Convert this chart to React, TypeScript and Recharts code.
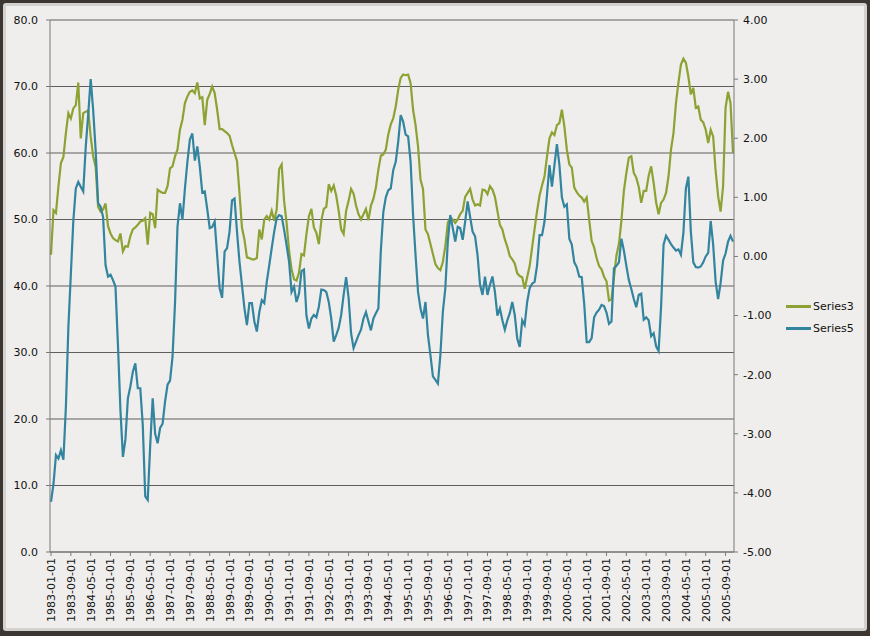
import { LineChart, Line, XAxis, YAxis, CartesianGrid } from 'recharts';

// monthly categories, 1983-01 .. 2005-12
const START_YEAR = 1983;
const YEARS = 23;
const months: string[] = [];
for (let y = 0; y < YEARS; y++) {
  for (let m = 1; m <= 12; m++) {
    months.push(`${START_YEAR + y}-${String(m).padStart(2, '0')}-01`);
  }
}

// Series3 (left axis), one row per year
const series3 = [
  44.7, 51.4, 51, 55, 58.5, 59.4, 63, 66, 65.2, 66.7, 67.2, 70.6,
  62.2, 66, 66.2, 66.4, 62.5, 59.5, 57.9, 51.9, 51.2, 51.5, 52.4, 49,
  47.9, 47.2, 46.9, 46.7, 47.9, 45.2, 46, 45.9, 47.5, 48.5, 48.8, 49.2,
  49.7, 49.8, 50.2, 46.2, 51, 50.8, 48.7, 54.5, 54.2, 54, 54, 55,
  57.7, 58, 59.5, 60.5, 63.5, 65, 67.5, 68.5, 69.2, 69.4, 69, 70.6,
  68.2, 68.4, 64.2, 68, 68.9, 70, 69, 66.5, 63.6, 63.6, 63.3, 63,
  62.6, 61.2, 60, 58.8, 54, 48.8, 47, 44.3, 44.2, 44, 44, 44.2,
  48.5, 47, 50, 50.5, 50, 51.3, 49.8, 51.5, 57.6, 58.3, 52.8, 49.5,
  45.3, 42.5, 41, 40.8, 42, 44.8, 44.6, 47.8, 50.5, 51.6, 48.8, 48,
  46.3, 49.8, 51.6, 51.9, 55.3, 54.3, 55.1, 53.6, 51.3, 48.5, 47.8, 51.3,
  52.8, 54.6, 53.9, 52.1, 50.8, 50, 50.8, 51.6, 49.9, 52.1, 53.1, 54.8,
  57.5, 59.6, 59.8, 60.5, 62.8, 64.3, 65.2, 67, 69.5, 71.3, 71.8, 71.7,
  71.8, 70.5, 66.5, 64.2, 61, 56, 54.6, 48.5, 47.8, 46.3, 44.8, 43.3,
  42.7, 42.4, 43.6, 46, 49.5, 50.3, 50, 49.5, 50, 50.8, 51.3, 53.4,
  54, 54.6, 53, 52.1, 52.3, 52.1, 54.5, 54.4, 53.8, 55, 54.5, 53.4,
  51.3, 49.2, 48.5, 47, 45.9, 44.5, 44, 43.4, 41.9, 41.5, 41.3, 39.6,
  41.3, 43, 45.8, 48.6, 51.3, 53.6, 55.1, 56.5, 59.5, 62.2, 63.1, 62.7,
  64.2, 64.5, 66.5, 64, 60.5, 58.3, 57.8, 54.8, 54.1, 53.6, 53.3, 52.7,
  53.3, 50, 46.8, 45.8, 44.2, 43, 42.5, 41.4, 40.7, 37.8, 38, 41.3,
  44.6, 46.3, 49.8, 54.3, 57, 59.3, 59.5, 57, 56.3, 54.9, 52.5, 54.3,
  54.3, 56.6, 58, 55.5, 52.6, 50.8, 52.5, 53, 54, 56.5, 60.5, 63,
  67.5, 70.6, 73.3, 74.2, 73.6, 71.5, 68.8, 69.8, 66.8, 67, 65, 64.6,
  63.5, 61.5, 63.5, 62.5, 57.3, 53.5, 51.2, 55, 66.8, 69.2, 67.5, 60,
];

// Series5 (right axis), one row per year
const series5 = [
  -4.15, -3.85, -3.36, -3.42, -3.28, -3.44, -2.55, -1.2, -0.3, 0.6, 1.15, 1.26,
  1.18, 1.1, 1.85, 2.4, 3.0, 2.48, 1.8, 0.9, 0.84, 0.67, -0.15, -0.34,
  -0.31, -0.4, -0.51, -1.5, -2.6, -3.39, -3.1, -2.4, -2.2, -1.95, -1.81, -2.23,
  -2.23, -2.85, -4.06, -4.12, -3.2, -2.4, -3.0, -3.16, -2.9, -2.83, -2.45, -2.17,
  -2.1, -1.7, -0.8, 0.5, 0.9, 0.62, 1.15, 1.6, 1.98, 2.08, 1.62, 1.86,
  1.52, 1.08, 1.1, 0.8, 0.48, 0.5, 0.59, 0.02, -0.54, -0.7, 0.08, 0.14,
  0.42, 0.95, 0.98, 0.42, -0.09, -0.48, -0.88, -1.16, -0.79, -0.79, -1.1, -1.27,
  -0.94, -0.74, -0.79, -0.43, -0.15, 0.14, 0.42, 0.645, 0.7, 0.68, 0.45, 0.19,
  -0.09, -0.6, -0.51, -0.77, -0.63, -0.25, -0.22, -1.0, -1.22, -1.05, -0.99, -1.03,
  -0.85, -0.56, -0.57, -0.6, -0.77, -1.05, -1.44, -1.33, -1.21, -0.99, -0.65, -0.35,
  -0.7, -1.3, -1.55, -1.44, -1.33, -1.24, -1.05, -0.94, -1.1, -1.25, -1.05, -0.96,
  -0.88, 0.1, 0.75, 1.0, 1.12, 1.15, 1.46, 1.6, 1.94, 2.39, 2.28, 2.06,
  2.03, 1.6, 0.7, 0.02, -0.6, -0.88, -1.05, -0.77, -1.33, -1.67, -2.03, -2.09,
  -2.15, -1.67, -0.94, -0.54, 0.25, 0.7, 0.48, 0.25, 0.5, 0.48, 0.28, 0.59,
  0.93, 0.67, 0.42, 0.34, 0.02, -0.48, -0.65, -0.34, -0.65, -0.48, -0.34, -0.6,
  -1.0, -0.88, -1.08, -1.24, -1.08, -0.96, -0.77, -0.99, -1.39, -1.53, -1.08, -1.16,
  -0.77, -0.54, -0.46, -0.43, -0.15, 0.36, 0.36, 0.59, 1.04, 1.545, 1.18, 1.545,
  1.9, 1.55, 1.0, 0.84, 0.88, 0.3, 0.2, -0.1, -0.18, -0.34, -0.35, -0.8,
  -1.45, -1.45, -1.38, -1.03, -0.95, -0.9, -0.82, -0.84, -0.95, -1.14, -1.1, -0.2,
  -0.16, -0.1, 0.3, 0.1, -0.16, -0.4, -0.55, -0.72, -0.86, -0.65, -0.63, -1.07,
  -1.03, -1.08, -1.35, -1.3, -1.52, -1.6, -0.85, 0.2, 0.35, 0.28, 0.21, 0.15,
  0.1, 0.12, 0.03, 0.4, 1.15, 1.35, 0.42, -0.1, -0.18, -0.19, -0.17, -0.1,
  0.0, 0.06, 0.6, 0.2, -0.43, -0.72, -0.45, -0.07, 0.05, 0.25, 0.35, 0.25,
];

const leftTicks = [0, 10, 20, 30, 40, 50, 60, 70, 80];
const rightTicks = [-5, -4, -3, -2, -1, 0, 1, 2, 3, 4];

const GREEN = '#8ca232';
const BLUE = '#33849f';
const FONT = 'DejaVu Sans';

const data = months.map((m, i) => ({ month: m, s3: series3[i], s5: series5[i] }));

const DateTick = ({ x, y, payload }: any) => (
  <text
    x={x}
    y={y}
    transform={`rotate(-90, ${x}, ${y})`}
    textAnchor="end"
    dy="0.36em"
    fontSize={11}
    fontFamily={FONT}
    fill="#111"
  >
    {payload.value}
  </text>
);

export default function App() {
  return (
    <div style={{ position: 'relative', width: 870, height: 636, background: '#3b3631' }}>
      <style>{'body{margin:0}'}</style>
      <div style={{
        position: 'absolute', left: 3, top: 3, width: 864, height: 628,
        boxSizing: 'border-box', background: '#efeeec',
        border: '3px solid #d3d2cf', borderRadius: 3,
      }} />
      <div style={{ position: 'absolute', left: 0, top: 0 }}>
        <LineChart width={870} height={636} data={data} margin={{ top: 20, right: 76, bottom: 0, left: 0 }}>
          <CartesianGrid yAxisId="left" vertical={false} stroke="#5e5e5e" />
          <XAxis
            dataKey="month"
            interval={7}
            height={84}
            padding={{ left: 1, right: 1 }}
            tick={<DateTick />}
            tickSize={4}
            tickMargin={2}
            stroke="#7a7a7a"
          />
          <YAxis
            yAxisId="left"
            domain={[0, 80]}
            ticks={leftTicks}
            width={50}
            tickSize={4}
            tickMargin={8}
            tickFormatter={(v: number) => v.toFixed(1)}
            tick={{ fill: '#111', fontSize: 11, fontFamily: FONT }}
            stroke="#7a7a7a"
          />
          <YAxis
            yAxisId="right"
            orientation="right"
            domain={[-5, 4]}
            ticks={rightTicks}
            width={60}
            tickSize={4}
            tickMargin={5}
            tickFormatter={(v: number) => v.toFixed(2)}
            tick={{ fill: '#111', fontSize: 11, fontFamily: FONT }}
            stroke="#7a7a7a"
          />
          <Line yAxisId="left" type="linear" dataKey="s3" stroke={GREEN} strokeWidth={2.2} dot={false} isAnimationActive={false} />
          <Line yAxisId="right" type="linear" dataKey="s5" stroke={BLUE} strokeWidth={2.2} dot={false} isAnimationActive={false} />
        </LineChart>
      </div>
      {/* legend */}
      <div style={{ position: 'absolute', left: 786, top: 295, fontFamily: FONT, fontSize: 11, color: '#111' }}>
        {[{ name: 'Series3', color: GREEN }, { name: 'Series5', color: BLUE }].map(s => (
          <div key={s.name} style={{ display: 'flex', alignItems: 'center', height: 22 }}>
            <span style={{ display: 'inline-block', width: 25, height: 3, background: s.color, marginRight: 2 }} />
            <span>{s.name}</span>
          </div>
        ))}
      </div>
    </div>
  );
}
